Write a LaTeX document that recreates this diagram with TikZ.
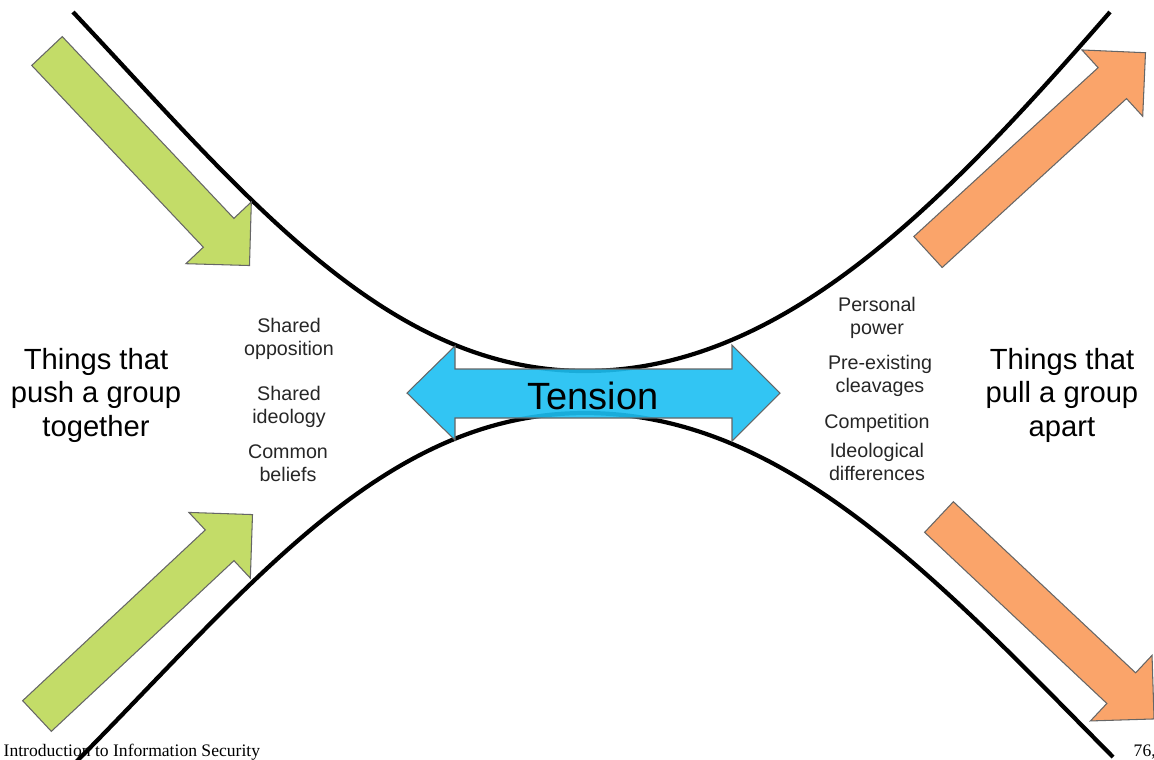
\documentclass[tikz,border=0pt]{standalone}
\usepackage{fontspec}
\setmainfont{Liberation Sans}
\newfontfamily\footfont{Liberation Serif}

\definecolor{pushgreen}{RGB}{195,220,104}
\definecolor{pullorange}{RGB}{250,164,106}
\definecolor{tensionblue}{RGB}{28,191,242}

% fat arrow: style, tail, angle
\newcommand{\blockarrow}[3]{%
    \draw[#1, shift={#2}, rotate=#3] (0,-21) -- (250,-21) -- (250,-45) -- (295,0) -- (250,45) -- (250,21) -- (0,21) -- cycle;}

\tikzset{
    push/.style={fill=pushgreen, draw=black!60, line width=0.3pt},
    pull/.style={fill=pullorange, draw=black!60, line width=0.3pt},
    groupline/.style={line width=1.2pt},
    bigtext/.style={font=\fontsize{8.3}{9.5}\selectfont, align=center, anchor=base},
    smalltext/.style={font=\fontsize{5.6}{6.5}\selectfont, align=center, anchor=base, text=black!85},
    foottext/.style={font=\footfont\fontsize{5}{6}\selectfont, anchor=base west, inner sep=0pt}
}

\begin{document}
\begin{tikzpicture}[x=0.01cm, y=-0.01cm]
    \useasboundingbox (0,0) rectangle (1154,759);

    % the two curves
    \draw[groupline] (73,12) .. controls (244,194) and (385,371) .. (585,371)
        .. controls (785,371) and (946,200) .. (1110,12);
    \draw[groupline] (76,762) .. controls (251,585) and (385,413) .. (585,413)
        .. controls (785,413) and (938,580) .. (1113,757);

    % side arrows
    \blockarrow{push}{(47,51)}{-46.65}
    \blockarrow{push}{(37,716)}{43.07}
    \blockarrow{pull}{(928,252)}{42.5}
    \blockarrow{pull}{(939,517)}{-43.2}

    % tension
    \draw[fill=tensionblue, fill opacity=0.9, draw=black!60, line width=0.3pt]
        (407,393) -- (455,346) -- (455,369) -- (732,369) -- (732,345) -- (780,393)
        -- (732,441) -- (732,418) -- (455,418) -- (455,440) -- cycle;
    \node[font=\fontsize{10.8}{12}\selectfont] (tension) at (593,396) {Tension};

    \node[bigtext] (together) at (96,436) {Things that\\push a group\\together};
    \node[bigtext] (apart) at (1062,436) {Things that\\pull a group\\apart};

    \node[smalltext] (opposition) at (289,355) {Shared\\opposition};
    \node[smalltext] (ideology) at (289,423) {Shared\\ideology};
    \node[smalltext] (beliefs) at (288,481) {Common\\beliefs};

    \node[smalltext] (power) at (877,334) {Personal\\power};
    \node[smalltext] (cleavages) at (880,392) {Pre-existing\\cleavages};
    \node[smalltext] (competition) at (877,428) {Competition};
    \node[smalltext] (differences) at (877,480) {Ideological\\differences};

    % footer
    \node[foottext] (course) at (3,756) {Introduction to Information Security};
    \node[foottext] (page) at (1133,756) {76,};
\end{tikzpicture}
\end{document}
